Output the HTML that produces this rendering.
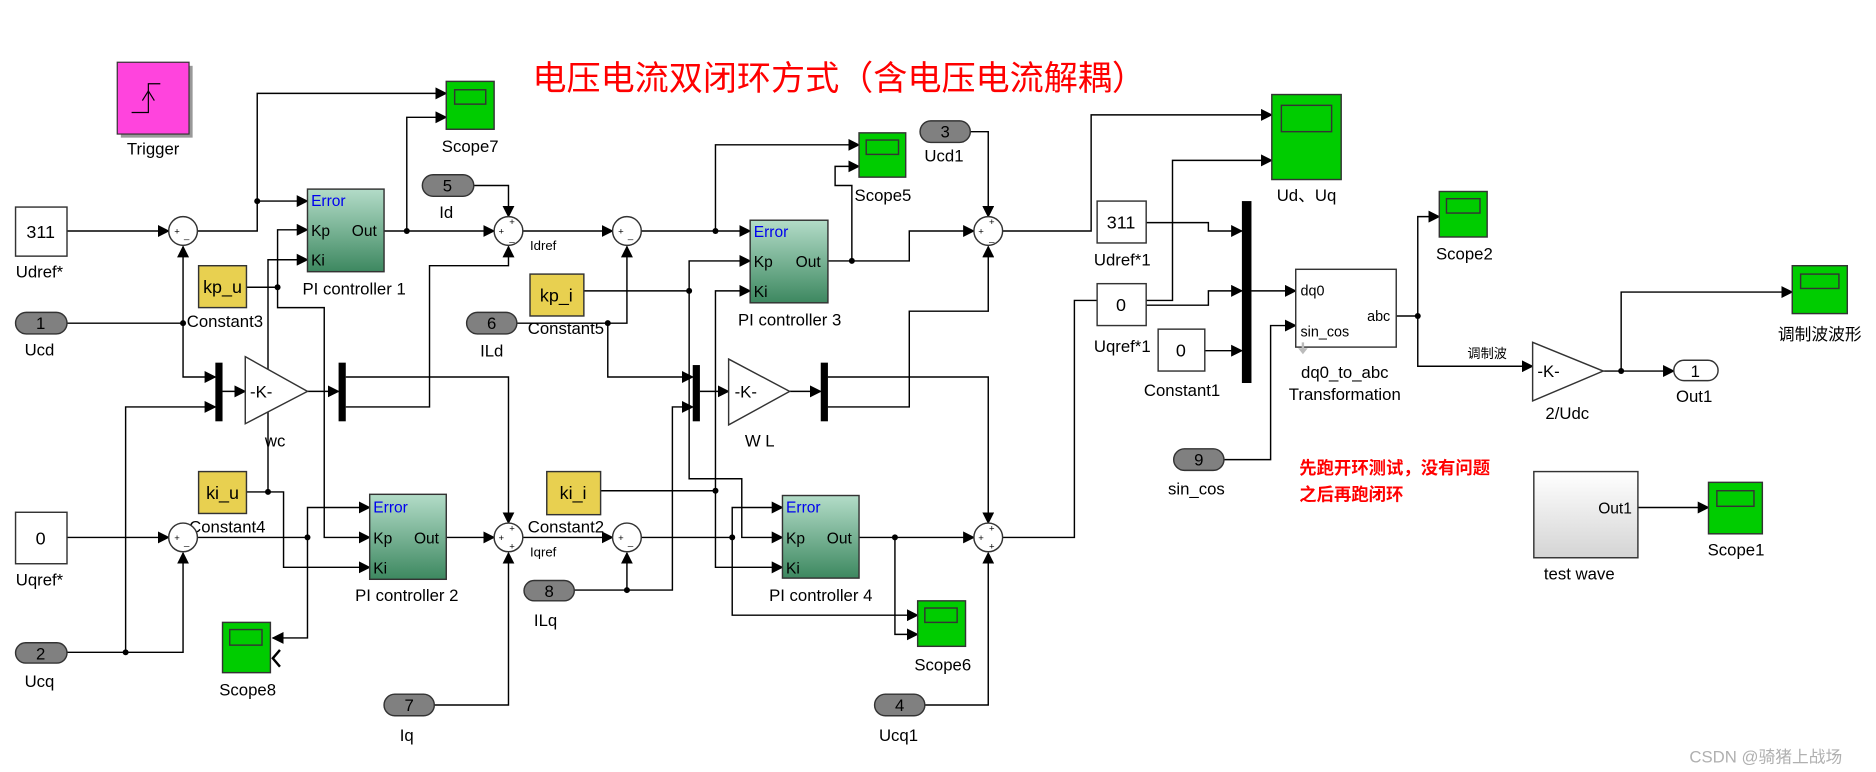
<!DOCTYPE html>
<html><head><meta charset="utf-8"><style>
html,body{margin:0;padding:0;background:#fff;}
svg{display:block;}
text{font-family:"Liberation Sans","Noto Sans CJK SC",sans-serif;fill:#000;}
</style></head><body>
<svg width="1876" height="772" viewBox="0 0 1568 645" preserveAspectRatio="none" xmlns="http://www.w3.org/2000/svg">
<defs>
<marker id="a" markerUnits="userSpaceOnUse" markerWidth="10" markerHeight="10" refX="9" refY="5" orient="auto"><path d="M0,0 L10,5 L0,10 z" fill="#000"/></marker>
<linearGradient id="pi" x1="0" y1="0" x2="0" y2="1"><stop offset="0" stop-color="#b3dcc8"/><stop offset="1" stop-color="#3d8860"/></linearGradient>
<linearGradient id="tw" x1="0" y1="0" x2="0" y2="1"><stop offset="0" stop-color="#ffffff"/><stop offset="1" stop-color="#d4d4d4"/></linearGradient>
</defs>
<rect width="1568" height="645" fill="#fff"/>
<text x="445" y="75" font-size="28.5" fill="#ff0000" style="fill:#ff0000" font-family="'Noto Serif CJK SC',serif">电压电流双闭环方式（含电压电流解耦）</text>

<g fill="none" stroke="#000" stroke-width="1.2">
<polyline points="56,193 141,193" marker-end="url(#a)"/>
<polyline points="165,193 215,193 215,78 373,78" marker-end="url(#a)"/>
<polyline points="215,168 257,168" marker-end="url(#a)"/>
<polyline points="321,193 413,193" marker-end="url(#a)"/>
<polyline points="340,193 340,98 373,98" marker-end="url(#a)"/>
<polyline points="396,155 425,155 425,181" marker-end="url(#a)"/>
<polyline points="437,193 512,193" marker-end="url(#a)"/>
<polyline points="536,193 627,193" marker-end="url(#a)"/>
<polyline points="598,193 598,121 718,121" marker-end="url(#a)"/>
<polyline points="692,218 760,218 760,193 814,193" marker-end="url(#a)"/>
<polyline points="712,218 712,155 698,155 698,139 718,139" marker-end="url(#a)"/>
<polyline points="811,110 826,110 826,181" marker-end="url(#a)"/>
<polyline points="838,193 912,193 912,96 1063,96" marker-end="url(#a)"/>
<polyline points="838,449 898,449 898,251 980,251 980,134 1063,134" marker-end="url(#a)"/>
<polyline points="56,270 153,270 153,206" marker-end="url(#a)"/>
<polyline points="153,270 153,315 180,315" marker-end="url(#a)"/>
<polyline points="56,545 153,545 153,462" marker-end="url(#a)"/>
<polyline points="105,545 105,340 180,340" marker-end="url(#a)"/>
<polyline points="186,327 205,327" marker-end="url(#a)"/>
<polyline points="257,327 283,327" marker-end="url(#a)"/>
<polyline points="289,315 425,315 425,437" marker-end="url(#a)"/>
<polyline points="289,340 359,340 359,222 425,222 425,206" marker-end="url(#a)"/>
<polyline points="363,589 425,589 425,462" marker-end="url(#a)"/>
<polyline points="206,240 232,240 232,192 257,192" marker-end="url(#a)"/>
<polyline points="232,240 232,257 271,257 271,449 309,449" marker-end="url(#a)"/>
<polyline points="206,411 224,411 224,217 257,217" marker-end="url(#a)"/>
<polyline points="224,411 237,411 237,474 309,474" marker-end="url(#a)"/>
<polyline points="56,449 141,449" marker-end="url(#a)"/>
<polyline points="165,449 257,449 257,424 309,424" marker-end="url(#a)"/>
<polyline points="257,449 257,533 228,533" marker-end="url(#a)"/>
<polyline points="373,449 413,449" marker-end="url(#a)"/>
<polyline points="437,449 512,449" marker-end="url(#a)"/>
<polyline points="432,270 524,270 524,206" marker-end="url(#a)"/>
<polyline points="508,270 508,315 579,315" marker-end="url(#a)"/>
<polyline points="480,493 524,493 524,462" marker-end="url(#a)"/>
<polyline points="524,493 562,493 562,340 579,340" marker-end="url(#a)"/>
<polyline points="585,327 609,327" marker-end="url(#a)"/>
<polyline points="660,327 686,327" marker-end="url(#a)"/>
<polyline points="692,315 826,315 826,437" marker-end="url(#a)"/>
<polyline points="692,340 760,340 760,260 826,260 826,206" marker-end="url(#a)"/>
<polyline points="488,243 576,243 576,218 627,218" marker-end="url(#a)"/>
<polyline points="576,243 576,400 620,400 620,449 654,449" marker-end="url(#a)"/>
<polyline points="502,410 598,410 598,243 627,243" marker-end="url(#a)"/>
<polyline points="598,410 598,474 654,474" marker-end="url(#a)"/>
<polyline points="536,449 612,449 612,424 654,424" marker-end="url(#a)"/>
<polyline points="612,449 612,514 767,514" marker-end="url(#a)"/>
<polyline points="718,449 814,449" marker-end="url(#a)"/>
<polyline points="748,449 748,530 767,530" marker-end="url(#a)"/>
<polyline points="773,589 826,589 826,462" marker-end="url(#a)"/>
<polyline points="958,186 1010,186 1010,193 1038,193" marker-end="url(#a)"/>
<polyline points="958,255 1010,255 1010,243 1038,243" marker-end="url(#a)"/>
<polyline points="1007,293 1038,293" marker-end="url(#a)"/>
<polyline points="1046,243 1083,243" marker-end="url(#a)"/>
<polyline points="1023,384 1062,384 1062,272 1083,272" marker-end="url(#a)"/>
<polyline points="1167,264 1185,264 1185,181 1203,181" marker-end="url(#a)"/>
<polyline points="1185,264 1185,306 1281,306" marker-end="url(#a)"/>
<polyline points="1340,310 1399,310" marker-end="url(#a)"/>
<polyline points="1355,310 1355,244 1498,244" marker-end="url(#a)"/>
<polyline points="1369,424 1428,424" marker-end="url(#a)"/>
</g>
<g fill="#000">
<circle cx="215" cy="168" r="2.5"/><circle cx="340" cy="193" r="2.5"/><circle cx="598" cy="193" r="2.5"/>
<circle cx="712" cy="218" r="2.5"/><circle cx="153" cy="270" r="2.5"/><circle cx="105" cy="545" r="2.5"/>
<circle cx="232" cy="240" r="2.5"/><circle cx="224" cy="411" r="2.5"/><circle cx="257" cy="449" r="2.5"/>
<circle cx="508" cy="270" r="2.5"/><circle cx="524" cy="493" r="2.5"/><circle cx="576" cy="243" r="2.5"/>
<circle cx="598" cy="410" r="2.5"/><circle cx="612" cy="449" r="2.5"/><circle cx="748" cy="449" r="2.5"/>
<circle cx="1185" cy="264" r="2.5"/><circle cx="1355" cy="310" r="2.5"/>
</g>

<g stroke="#333" stroke-width="1">
<rect x="101" y="55" width="60" height="60" fill="#999" stroke="none"/>
<rect x="98" y="52" width="60" height="60" fill="#ff44dd"/>
</g>
<polyline points="110,94 124,94 124,70 134,70" fill="none" stroke="#000"/>
<polyline points="119,84 124,76 129,84" fill="none" stroke="#000"/>
<text x="128" y="129" font-size="14" text-anchor="middle">Trigger</text>

<g stroke="#333" stroke-width="1.2">
<rect x="373" y="68" width="40" height="40" fill="#00cc00"/><rect x="380" y="75" width="26" height="12" fill="none"/>
<rect x="718" y="111" width="39" height="37" fill="#00cc00"/><rect x="724" y="117" width="27" height="12" fill="none"/>
<rect x="767" y="502" width="40" height="38" fill="#00cc00"/><rect x="773" y="508" width="27" height="12" fill="none"/>
<rect x="186" y="520" width="40" height="42" fill="#00cc00"/><rect x="192" y="526" width="27" height="13" fill="none"/>
<rect x="1063" y="79" width="58" height="71" fill="#00cc00"/><rect x="1071" y="88" width="42" height="22" fill="none"/>
<rect x="1203" y="160" width="40" height="38" fill="#00cc00"/><rect x="1209" y="166" width="28" height="12" fill="none"/>
<rect x="1498" y="222" width="46" height="40" fill="#00cc00"/><rect x="1505" y="229" width="32" height="12" fill="none"/>
<rect x="1428" y="403" width="45" height="43" fill="#00cc00"/><rect x="1435" y="410" width="31" height="13" fill="none"/>
</g>
<polyline points="234,543 228,550 234,557" fill="none" stroke="#000" stroke-width="2"/>
<g font-size="14" text-anchor="middle">
<text x="393" y="127">Scope7</text><text x="738" y="168">Scope5</text><text x="788" y="560">Scope6</text>
<text x="207" y="581">Scope8</text><text x="1092" y="168">Ud、Uq</text><text x="1224" y="217">Scope2</text>
<text x="1521" y="284">调制波波形</text><text x="1451" y="464">Scope1</text>
</g>

<g stroke="#333" stroke-width="1.2" fill="#fff">
<rect x="13" y="173" width="43" height="41"/><rect x="13" y="428" width="43" height="43"/>
<rect x="917" y="168" width="41" height="35"/><rect x="917" y="237" width="41" height="35"/><rect x="968" y="275" width="39" height="35"/>
</g>
<g stroke="#333" stroke-width="1.2" fill="#e8d050">
<rect x="166" y="222" width="40" height="35"/><rect x="166" y="394" width="40" height="35"/>
<rect x="443" y="229" width="45" height="35"/><rect x="457" y="394" width="45" height="36"/>
</g>
<g font-size="15" text-anchor="middle">
<text x="34" y="199">311</text><text x="34" y="455">0</text><text x="937" y="191">311</text><text x="937" y="260">0</text><text x="987" y="298">0</text>
<text x="186" y="245">kp_u</text><text x="186" y="417">ki_u</text><text x="465" y="252">kp_i</text><text x="479" y="417">ki_i</text>
</g>
<g font-size="14" text-anchor="middle">
<text x="33" y="232">Udref*</text><text x="33" y="489">Uqref*</text><text x="938" y="222">Udref*1</text><text x="938" y="294">Uqref*1</text><text x="988" y="331">Constant1</text>
<text x="188" y="273">Constant3</text><text x="190" y="445">Constant4</text><text x="473" y="279">Constant5</text><text x="473" y="445">Constant2</text>
</g>

<g stroke="#333" stroke-width="1.2" fill="#808080">
<rect x="13" y="261" width="43" height="18" rx="9"/><rect x="13" y="537" width="43" height="17" rx="8.5"/>
<rect x="353" y="146" width="43" height="18" rx="9"/><rect x="390" y="261" width="42" height="18" rx="9"/>
<rect x="438" y="485" width="42" height="17" rx="8.5"/><rect x="321" y="580" width="42" height="18" rx="9"/>
<rect x="769" y="101" width="42" height="18" rx="9"/><rect x="731" y="580" width="42" height="18" rx="9"/>
<rect x="981" y="375" width="42" height="18" rx="9"/>
</g>
<rect x="1399" y="301" width="37" height="17" rx="8.5" fill="#fff" stroke="#333" stroke-width="1.2"/>
<g font-size="14" text-anchor="middle">
<text x="34" y="275">1</text><text x="34" y="551">2</text><text x="374" y="160">5</text><text x="411" y="275">6</text>
<text x="459" y="499">8</text><text x="342" y="594">7</text><text x="790" y="115">3</text><text x="752" y="594">4</text>
<text x="1002" y="389">9</text><text x="1417" y="315">1</text>
<text x="33" y="297">Ucd</text><text x="33" y="574">Ucq</text><text x="373" y="182">Id</text><text x="411" y="298">ILd</text>
<text x="456" y="523">ILq</text><text x="340" y="619">Iq</text><text x="789" y="135">Ucd1</text><text x="751" y="619">Ucq1</text>
<text x="1000" y="413">sin_cos</text><text x="1416" y="336">Out1</text>
</g>

<g stroke="#333" stroke-width="1.2" fill="#fff">
<circle cx="153" cy="193" r="12"/><circle cx="425" cy="193" r="12"/><circle cx="524" cy="193" r="12"/><circle cx="826" cy="193" r="12"/>
<circle cx="153" cy="449" r="12"/><circle cx="425" cy="449" r="12"/><circle cx="524" cy="449" r="12"/><circle cx="826" cy="449" r="12"/>
</g>
<g font-size="8" text-anchor="middle">
<text x="148" y="196">+</text><text x="156" y="199">_</text><text x="519" y="196">+</text><text x="527" y="199">_</text>
<text x="148" y="452">+</text><text x="156" y="455">_</text><text x="519" y="452">+</text><text x="527" y="455">_</text>
<text x="428" y="188">+</text><text x="419" y="196">+</text><text x="428" y="201">_</text>
<text x="829" y="188">+</text><text x="820" y="196">+</text><text x="829" y="201">_</text>
<text x="428" y="444">+</text><text x="419" y="452">+</text><text x="428" y="459">+</text>
<text x="829" y="444">+</text><text x="820" y="452">+</text><text x="829" y="459">+</text>
</g>
<text x="443" y="209" font-size="11">Idref</text><text x="443" y="465" font-size="11">Iqref</text>

<g fill="#000">
<rect x="180" y="303" width="6" height="49"/><rect x="283" y="303" width="6" height="49"/>
<rect x="579" y="305" width="6" height="47"/><rect x="686" y="303" width="6" height="49"/>
<rect x="1038" y="168" width="8" height="152"/>
</g>
<g stroke="#333" stroke-width="1.2" fill="#fff">
<polygon points="205,298 257,327 205,354"/><polygon points="609,300 660,327 609,355"/><polygon points="1281,286 1340,310 1281,335"/>
</g>
<g font-size="14">
<text x="209" y="332">-K-</text><text x="614" y="332">-K-</text><text x="1285" y="315">-K-</text>
</g>
<g font-size="14" text-anchor="middle">
<text x="230" y="373">wc</text><text x="635" y="373">W L</text><text x="1310" y="350">2/Udc</text>
</g>
<text x="1243" y="299" font-size="11" text-anchor="middle">调制波</text>

<g stroke="#333" stroke-width="1.2" fill="url(#pi)">
<rect x="257" y="158" width="64" height="69"/><rect x="309" y="413" width="64" height="71"/>
<rect x="627" y="184" width="65" height="69"/><rect x="654" y="414" width="64" height="69"/>
</g>
<g font-size="13">
<text x="260" y="172" style="fill:#0000ee">Error</text><text x="260" y="197">Kp</text><text x="294" y="197">Out</text><text x="260" y="222">Ki</text>
<text x="312" y="428" style="fill:#0000ee">Error</text><text x="312" y="454">Kp</text><text x="346" y="454">Out</text><text x="312" y="479">Ki</text>
<text x="630" y="198" style="fill:#0000ee">Error</text><text x="630" y="223">Kp</text><text x="665" y="223">Out</text><text x="630" y="248">Ki</text>
<text x="657" y="428" style="fill:#0000ee">Error</text><text x="657" y="454">Kp</text><text x="691" y="454">Out</text><text x="657" y="479">Ki</text>
</g>
<g font-size="14" text-anchor="middle">
<text x="296" y="246">PI controller 1</text><text x="340" y="502">PI controller 2</text>
<text x="660" y="272">PI controller 3</text><text x="686" y="502">PI controller 4</text>
</g>

<rect x="1083" y="225" width="84" height="65" fill="#fff" stroke="#333" stroke-width="1.2"/>
<g font-size="12"><text x="1087" y="247">dq0</text><text x="1087" y="281">sin_cos</text><text x="1162" y="268" text-anchor="end">abc</text></g>
<path d="M1088,286 v5 h-3 l4,5 l4,-5 h-3 v-5z" fill="#bbb"/>
<g font-size="14" text-anchor="middle"><text x="1124" y="316">dq0_to_abc</text><text x="1124" y="334">Transformation</text></g>

<rect x="1282" y="394" width="87" height="72" fill="url(#tw)" stroke="#333" stroke-width="1.2"/>
<text x="1364" y="429" font-size="13" text-anchor="end">Out1</text>
<text x="1320" y="484" font-size="14" text-anchor="middle">test wave</text>

<g font-size="14.5" font-weight="bold">
<text x="1086" y="396" style="fill:#ff0000" font-family="'Noto Serif CJK SC',serif">先跑开环测试，没有问题</text>
<text x="1086" y="418" style="fill:#ff0000" font-family="'Noto Serif CJK SC',serif">之后再跑闭环</text>
</g>
<text x="1412" y="637" font-size="14" style="fill:#b0b0b0">CSDN @骑猪上战场</text>
</svg>
</body></html>
